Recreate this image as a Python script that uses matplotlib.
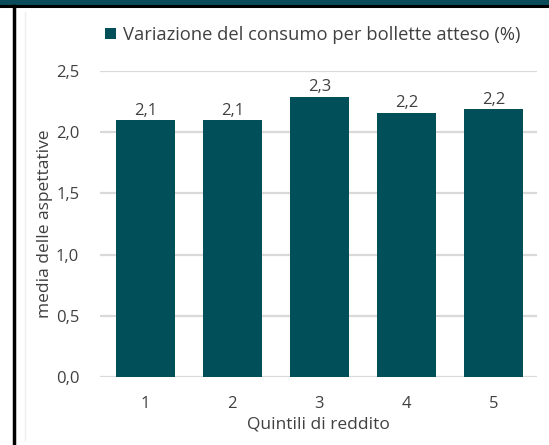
import matplotlib.pyplot as plt
from matplotlib.lines import Line2D
from matplotlib.patches import Rectangle

plt.rcParams['font.family'] = ['Open Sans', 'DejaVu Sans']

# dati
quintili = ['1', '2', '3', '4', '5']
valori = [2.10, 2.10, 2.29, 2.16, 2.19]
etichette = ['2,1', '2,1', '2,3', '2,2', '2,2']
tick_y = [0.0, 0.5, 1.0, 1.5, 2.0, 2.5]
tick_y_lab = ['0,0', '0,5', '1,0', '1,5', '2,0', '2,5']

teal = '#014F59'
grigio_testo = '#404040'

W, H = 549, 445
fig = plt.figure(figsize=(W / 100, H / 100), dpi=100)

# cornice della pagina
fig.patches.append(Rectangle((0, 1 - 5 / H), 1, 5 / H, transform=fig.transFigure,
                             color='#0B4C5A', zorder=0))
fig.lines.append(Line2D([0, 1], [1 - 6 / H, 1 - 6 / H], transform=fig.transFigure,
                        color='black', lw=2.2))
fig.lines.append(Line2D([14 / W, 14 / W], [0, 1 - 6 / H], transform=fig.transFigure,
                        color='black', lw=2.5))
fig.lines.append(Line2D([24.5 / W, 24.5 / W], [5 / H, 1 - 12 / H], transform=fig.transFigure,
                        color='#EDEDED', lw=1))

ax = fig.add_axes([100 / W, (H - 377) / H, 437 / W, 306 / H])

x = list(range(1, 6))
bars = ax.bar(x, valori, width=0.68, color=teal, zorder=3,
              label='Variazione del consumo per bollette atteso (%)')

for xi, v, t in zip(x, valori, etichette):
    ax.text(xi, v + 0.01, t, ha='center', va='bottom', fontsize=12, color=grigio_testo)

ax.set_xlim(0.48, 5.5)
ax.set_ylim(0, 2.5)
ax.set_yticks(tick_y)
ax.set_yticklabels(tick_y_lab)
ax.set_xticks(x)
ax.set_xticklabels(quintili)
ax.tick_params(length=0, labelsize=12, labelcolor=grigio_testo, pad=14)
ax.tick_params(axis='y', pad=15)

ax.yaxis.grid(True, color='#D9D9D9', lw=1.6, zorder=0)
ax.set_axisbelow(True)
for s in ax.spines.values():
    s.set_visible(False)

ax.set_xlabel('Quintili di reddito', fontsize=12.5, color=grigio_testo, labelpad=3)
ax.set_ylabel('media delle aspettative', fontsize=12.5, color=grigio_testo, labelpad=2)

leg = fig.legend(handles=[bars], loc='center', bbox_to_anchor=(313 / W, 1 - 35 / H),
                 frameon=False, fontsize=13.2, handlelength=0.6, handleheight=0.6,
                 handletextpad=0.4, labelcolor=grigio_testo)

fig.savefig('out.png', dpi=100)
